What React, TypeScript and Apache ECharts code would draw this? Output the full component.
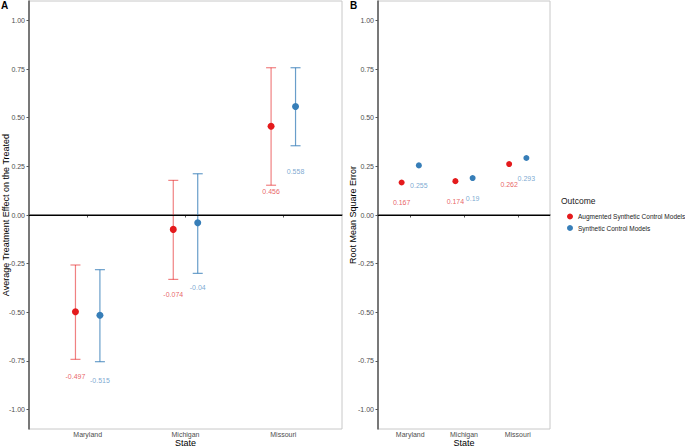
import React, { useEffect, useRef } from "react";
import * as echarts from "echarts";

const STATES = ["Maryland", "Michigan", "Missouri"];
const ASCM_ATT = [-0.497, -0.074, 0.456];
const ASCM_LOW = [-0.742, -0.331, 0.153];
const ASCM_HIGH = [-0.257, 0.178, 0.757];
const SCM_ATT = [-0.515, -0.04, 0.558];
const SCM_LOW = [-0.754, -0.3, 0.356];
const SCM_HIGH = [-0.281, 0.212, 0.757];
const ASCM_RMSE = [0.167, 0.174, 0.262];
const SCM_RMSE = [0.255, 0.19, 0.293];
const Y_TICKS = [-1, -0.75, -0.5, -0.25, 0, 0.25, 0.5, 0.75, 1];
const X_TICKS = [1, 2, 3];

const ASCM_NAME = "Augmented Synthetic Control Models";
const SCM_NAME = "Synthetic Control Models";
const RED = "#E41A1C";
const BLUE = "#377EB8";
const RED_BAR = "rgba(228,26,28,0.55)";
const BLUE_BAR = "rgba(55,126,184,0.75)";
const RED_TXT = "#e2383b";
const BLUE_TXT = "#5a92c6";
const FONT = "'Liberation Sans', Arial, sans-serif";

const DODGE_A = 0.125;
const DODGE_B = 0.16;
const NUDGE_A = 0.335;
const NUDGE_B = 0.105;

function xAxisCfg(gridIndex: number) {
  return {
    type: "value",
    gridIndex,
    min: 0.4,
    max: 3.6,
    name: "State",
    nameLocation: "middle",
    nameGap: 9,
    nameMoveOverlap: false,
    nameTextStyle: { fontSize: 9, color: "#000", fontFamily: FONT },
    axisLine: { show: true, lineStyle: { color: "#555", width: 1.5 } },
    axisTick: { show: true, length: 2.5, customValues: X_TICKS, lineStyle: { color: "#555", width: 1 } },
    axisLabel: {
      customValues: X_TICKS,
      margin: 2,
      fontSize: 7,
      color: "#4d4d4d",
      fontFamily: FONT,
      formatter: (v: number) => STATES[Math.round(v) - 1] ?? "",
    },
    splitLine: { show: false },
  };
}

function yAxisCfg(gridIndex: number, name: string, gap: number) {
  return {
    type: "value",
    gridIndex,
    min: -1.1,
    max: 1.1,
    name,
    nameLocation: "middle",
    nameGap: gap,
    nameMoveOverlap: false,
    nameTextStyle: { fontSize: 9, color: "#000", fontFamily: FONT },
    axisLine: { show: true, lineStyle: { color: "#555", width: 1.5 } },
    axisTick: { show: true, length: 2.5, customValues: Y_TICKS, lineStyle: { color: "#555", width: 1 } },
    axisLabel: {
      customValues: Y_TICKS,
      margin: 4,
      fontSize: 7,
      color: "#4d4d4d",
      fontFamily: FONT,
      formatter: (v: number) => v.toFixed(2),
    },
    splitLine: { show: false },
  };
}

function errorBarSeries(idx: number, low: number[], high: number[], dodge: number, color: string) {
  return {
    type: "custom",
    xAxisIndex: idx,
    yAxisIndex: idx,
    silent: true,
    data: low.map((lo, i) => [i + 1 + dodge, lo, high[i]]),
    renderItem: (params: any, api: any) => {
      const x = api.value(0);
      const pLo = api.coord([x, api.value(1)]);
      const pHi = api.coord([x, api.value(2)]);
      const half = 5;
      const style = { stroke: color, lineWidth: 1.2 };
      return {
        type: "group",
        children: [
          { type: "line", shape: { x1: pLo[0], y1: pLo[1], x2: pHi[0], y2: pHi[1] }, style },
          { type: "line", shape: { x1: pLo[0] - half, y1: pLo[1], x2: pLo[0] + half, y2: pLo[1] }, style },
          { type: "line", shape: { x1: pHi[0] - half, y1: pHi[1], x2: pHi[0] + half, y2: pHi[1] }, style },
        ],
      };
    },
  };
}

function pointSeries(idx: number, name: string, vals: number[], dodge: number, color: string, size: number, zeroLine: boolean) {
  const s: any = {
    type: "scatter",
    name,
    xAxisIndex: idx,
    yAxisIndex: idx,
    symbol: "circle",
    symbolSize: size,
    itemStyle: { color, opacity: 1 },
    z: 5,
    data: vals.map((v, i) => [i + 1 + dodge, v]),
  };
  if (zeroLine) {
    s.markLine = {
      silent: true,
      symbol: "none",
      label: { show: false },
      lineStyle: { color: "#000", width: 1, type: "solid" },
      data: [{ yAxis: 0 }],
    };
  }
  return s;
}

function labelSeries(idx: number, vals: number[], dodge: number, nudge: number, color: string) {
  return {
    type: "scatter",
    xAxisIndex: idx,
    yAxisIndex: idx,
    symbolSize: 0,
    silent: true,
    data: vals.map((v, i) => [i + 1 + dodge, v - nudge, v]),
    label: {
      show: true,
      position: "inside",
      fontSize: 7,
      color,
      fontFamily: FONT,
      formatter: (p: any) => String(p.value[2]),
    },
  };
}

export default function App() {
  const ref = useRef<HTMLDivElement>(null);
  useEffect(() => {
    if (!ref.current) return;
    const chart = echarts.init(ref.current, undefined, { renderer: "svg" });
    const option: any = {
      animation: false,
      backgroundColor: "#fff",
      textStyle: { fontFamily: FONT },
      grid: [
        { left: 29, right: 343, top: 1, bottom: 18, show: true, borderColor: "#c8c8c8", borderWidth: 1, backgroundColor: "transparent", outerBoundsMode: "none", containLabel: false },
        { left: 378, right: 135, top: 1, bottom: 18, show: true, borderColor: "#c8c8c8", borderWidth: 1, backgroundColor: "transparent", outerBoundsMode: "none", containLabel: false },
      ],
      xAxis: [xAxisCfg(0), xAxisCfg(1)],
      yAxis: [
        yAxisCfg(0, "Average Treatment Effect on the Treated", 19),
        yAxisCfg(1, "Root Mean Square Error", 21),
      ],
      legend: {
        orient: "vertical",
        left: 562,
        top: 208,
        icon: "circle",
        itemWidth: 6,
        itemHeight: 6,
        itemGap: 4.5,
        textStyle: { fontSize: 6.5, color: "#1a1a1a", fontFamily: FONT },
        data: [ASCM_NAME, SCM_NAME],
      },
      graphic: [
        { type: "text", left: 1, top: 0, style: { text: "A", fontSize: 10, fontWeight: "bold", fill: "#000", font: "bold 10px " + FONT } },
        { type: "text", left: 350, top: 0, style: { text: "B", fontSize: 10, fontWeight: "bold", fill: "#000", font: "bold 10px " + FONT } },
        { type: "text", left: 561, top: 196, style: { text: "Outcome", fontSize: 8.5, fill: "#1a1a1a", font: "8.5px " + FONT } },
      ],
      series: [
        errorBarSeries(0, ASCM_LOW, ASCM_HIGH, -DODGE_A, RED_BAR),
        errorBarSeries(0, SCM_LOW, SCM_HIGH, DODGE_A, BLUE_BAR),
        pointSeries(0, ASCM_NAME, ASCM_ATT, -DODGE_A, RED, 7, true),
        pointSeries(0, SCM_NAME, SCM_ATT, DODGE_A, BLUE, 7, false),
        labelSeries(0, ASCM_ATT, -DODGE_A, NUDGE_A, RED_TXT),
        labelSeries(0, SCM_ATT, DODGE_A, NUDGE_A, BLUE_TXT),
        pointSeries(1, ASCM_NAME, ASCM_RMSE, -DODGE_B, RED, 6, true),
        pointSeries(1, SCM_NAME, SCM_RMSE, DODGE_B, BLUE, 6, false),
        labelSeries(1, ASCM_RMSE, -DODGE_B, NUDGE_B, RED_TXT),
        labelSeries(1, SCM_RMSE, DODGE_B, NUDGE_B, BLUE_TXT),
      ],
    };
    chart.setOption(option);
    return () => chart.dispose();
  }, []);
  return (
    <div
      ref={ref}
      style={{ position: "fixed", left: 0, top: 0, width: 685, height: 447, background: "#fff" }}
    />
  );
}
